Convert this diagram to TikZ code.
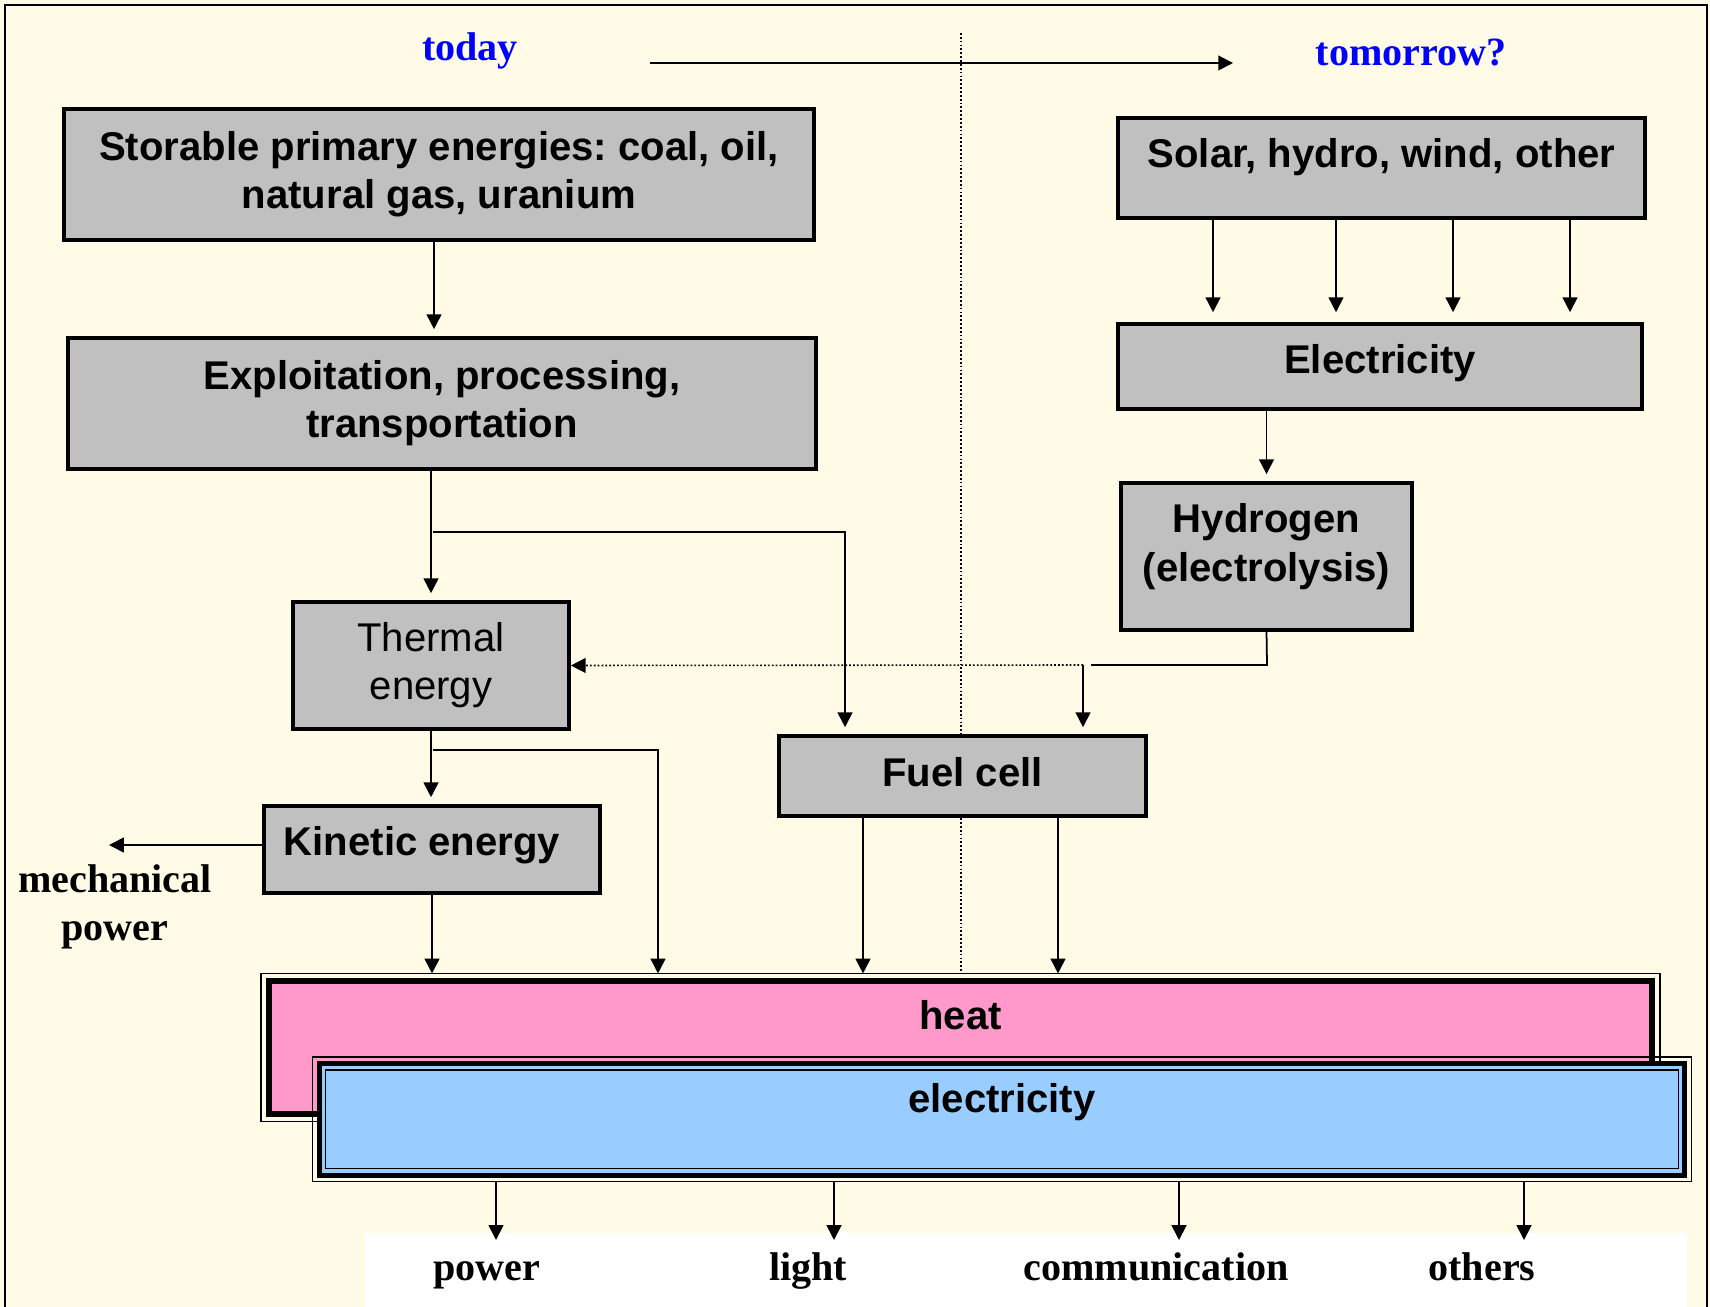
\documentclass[tikz,border=0pt]{standalone}
\usepackage{fontspec}
\setmainfont{Liberation Serif}
\setsansfont{Liberation Sans}
\usepackage{tikz}
\usetikzlibrary{arrows.meta, positioning, calc}
\definecolor{creambg}{RGB}{255,251,231}
\definecolor{boxgray}{RGB}{192,192,192}
\definecolor{heatpink}{RGB}{255,153,204}
\definecolor{elecblue}{RGB}{153,204,255}
\definecolor{timeblue}{RGB}{0,0,255}
\newcommand{\diagsize}{\fontsize{11.4pt}{13.7pt}\selectfont}
\frenchspacing

\begin{document}
\begin{tikzpicture}[x=0.01cm, y=-0.01cm,
    box/.style={draw, line width=1pt, fill=boxgray, font=\sffamily\bfseries\diagsize, align=center, inner sep=0pt},
    flow/.style={-{Triangle[length=4.2pt,width=4.2pt]}, line width=0.5pt},
    short/.style={shorten >=0.07cm},
    lbl/.style={font=\rmfamily\bfseries\diagsize, align=center}]

    \useasboundingbox (0,0) rectangle (1710,1307);
    \fill[creambg] (0,0) rectangle (1710,1307);
    \draw[line width=0.8pt, fill=creambg] (5,5) rectangle (1707,1330);
    \fill[white] (365,1233) rectangle (1687,1330);

    % time axis
    \node[lbl, text=timeblue, anchor=base] (today) at (470,61) {today};
    \node[lbl, text=timeblue, anchor=base] (tomorrow) at (1411,66) {tomorrow?};
    \coordinate (tstart) at (650,63);
    \coordinate (tend) at (1233,63);
    \draw[flow, line width=0.55pt] (tstart) -- (tend);
    \coordinate (divtop) at (961,33);
    \coordinate (divbot) at (961,974);
    \draw[line width=0.45pt, dash pattern=on 0.5pt off 0.6pt] (divtop) -- (divbot);

    % boxes
    \node[box, minimum width=7.5cm, minimum height=1.31cm] (store) at (439,174.5) {Storable primary energies: coal, oil,\\natural gas, uranium};
    \node[box, minimum width=7.48cm, minimum height=1.31cm] (expl) at (442,403.5) {Exploitation, processing,\\transportation};
    \node[box, minimum width=2.76cm, minimum height=1.27cm, font=\sffamily\diagsize] (thermal) at (431,665.5) {Thermal\\energy};
    \node[box, minimum width=3.36cm, minimum height=0.87cm, text depth=0.17cm] (kinetic) at (432,849.5) {Kinetic energy\hspace{0.2cm}};
    \node[box, minimum width=5.27cm, minimum height=1cm, text depth=0.3cm] (solar) at (1381.5,168) {Solar, hydro, wind, other};
    \node[box, minimum width=5.24cm, minimum height=0.85cm, text depth=0.15cm] (elec) at (1380,366.5) {Electricity};
    \node[box, minimum width=2.91cm, minimum height=1.47cm, text depth=0.28cm] (hydro) at (1266.5,556.5) {Hydrogen\\(electrolysis)};
    \node[box, minimum width=3.67cm, minimum height=0.8cm, text depth=0.08cm] (fuel) at (962.5,776) {Fuel cell};

    \node[draw, line width=1.7pt, fill=heatpink, minimum width=13.83cm, minimum height=1.33cm, outer sep=0.075cm, text depth=0.65cm, font=\sffamily\bfseries\diagsize] (heat) at (960.5,1047.5) {heat};
    \draw[line width=0.45pt] (heat.south west) rectangle (heat.north east);
    \node[draw, line width=1.42pt, fill=elecblue, minimum width=13.65cm, minimum height=1.115cm, outer sep=0.065cm, text depth=0.43cm, font=\sffamily\bfseries\diagsize] (grid) at (1002,1119.25) {electricity};
    \draw[line width=0.45pt] (grid.south west) rectangle (grid.north east);
    \draw[line width=0.45pt] ([shift={(13,13)}]grid.north west) rectangle ([shift={(-13,-13)}]grid.south east);

    % today's chain
    \coordinate (spine) at (434,0);
    \draw[flow, short] (spine |- store.south) -- (spine |- expl.north);
    \draw[flow, short] (thermal.north |- expl.south) -- (thermal.north);
    \coordinate (fork1) at (433,532);
    \coordinate (fork1r) at (845,532);
    \draw[flow, short] (fork1) -- (fork1r) -- (fork1r |- fuel.north);
    \draw[flow, short] (thermal.south) -- (thermal.south |- kinetic.north);
    \coordinate (fork2) at (433,750);
    \coordinate (fork2r) at (658,750);
    \draw[flow] (fork2) -- (fork2r) -- (fork2r |- heat.north);
    \coordinate (mech) at (109,845);
    \draw[flow] (kinetic.west |- mech) -- (mech);
    \node[lbl] (mechpower) at (115,907) {mechanical\\power};
    \draw[flow] (kinetic.south) -- (kinetic.south |- heat.north);
    \coordinate (fc1) at (863,0);
    \coordinate (fc2) at (1058,0);
    \draw[flow] (fc1 |- fuel.south) -- (fc1 |- heat.north);
    \draw[flow] (fc2 |- fuel.south) -- (fc2 |- heat.north);

    % tomorrow's chain
    \foreach \sx [count=\i] in {1213,1336,1453,1570} {
        \coordinate (s\i) at (\sx,0);
        \draw[flow, shorten >=0.1cm] (s\i |- solar.south) -- (s\i |- elec.north);
    }
    \draw[flow, short] (hydro.north |- elec.south) -- (hydro.north);
    \coordinate (hjoin) at (1267,665);
    \coordinate (hend) at (1091,665);
    \draw[line width=0.5pt] (hydro.south) -- (hjoin) -- (hend);
    \coordinate (tee) at (1083,665);
    \draw[flow, line width=0.45pt, dash pattern=on 0.5pt off 0.6pt] (tee) -- (thermal.east);
    \draw[flow, short] (tee) -- (tee |- fuel.north);

    % uses
    \foreach \ox/\name/\txt/\tx in {496/power/power/487, 834/light/light/808, 1179/comm/communication/1156, 1524/others/others/1482} {
        \coordinate (o\name) at (\ox,1240);
        \draw[flow] (o\name |- grid.south) -- (o\name);
        \node[lbl, anchor=base] (\name) at (\tx,1280) {\txt};
    }
\end{tikzpicture}
\end{document}
